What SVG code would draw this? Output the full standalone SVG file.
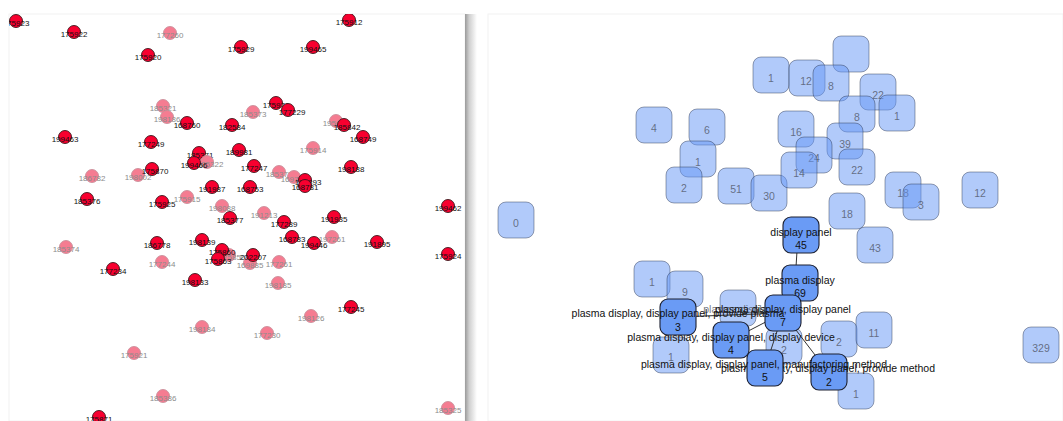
<svg xmlns="http://www.w3.org/2000/svg" width="1063" height="421" viewBox="0 0 1063 421">
<defs>
<clipPath id="lc"><rect x="9" y="14" width="456" height="407"/></clipPath>
<clipPath id="rc"><rect x="488" y="14" width="575" height="407"/></clipPath>
<linearGradient id="sh" x1="0" y1="0" x2="1" y2="0">
<stop offset="0" stop-color="#9a9a9a"/><stop offset="0.35" stop-color="#cfcfcf"/><stop offset="1" stop-color="#ffffff"/>
</linearGradient>
<style>
.r{fill:#f8002f;stroke:#3a1518;stroke-width:0.9}
.p{fill:#f57c91;stroke:#c98e9a;stroke-width:0.9}
text{font-family:"Liberation Sans",Arial,sans-serif;text-anchor:middle}
.tr{font-size:8px;fill:#111}
.tp{font-size:8px;fill:#8c8c8c}
.lb{fill:#6496f5;fill-opacity:0.5;stroke:#2a3550;stroke-opacity:0.45;stroke-width:1}
.db{fill:#6a9bf5;stroke:#1c2030;stroke-width:1.1}
.tl{font-size:10.5px;fill:#4a4f5a;fill-opacity:0.75}
.td{font-size:10.5px;fill:#111}
.e{stroke:#333;stroke-width:1;fill:none}
</style>
</defs>
<rect width="1063" height="421" fill="#fff"/>
<rect x="9" y="14" width="456" height="407" fill="#fff" stroke="#f2f2f2"/>
<rect x="465" y="14" width="12" height="407" fill="url(#sh)"/>
<rect x="488" y="14" width="575" height="407" fill="#fff" stroke="#f2f2f2"/>
<g id="left" clip-path="url(#lc)">
<g id="a1"><circle class="r" cx="16" cy="21" r="6.5"/><text class="tr" x="16" y="26">175923</text></g>
<g id="a2"><circle class="r" cx="74" cy="32" r="6.5"/><text class="tr" x="74" y="37">175922</text></g>
<g id="a3"><circle class="p" cx="170" cy="33" r="6.5"/><text class="tp" x="170" y="38">177260</text></g>
<g id="a4"><circle class="r" cx="349" cy="20" r="6.5"/><text class="tr" x="349" y="25">175912</text></g>
<g id="a5"><circle class="r" cx="148" cy="55" r="6.5"/><text class="tr" x="148" y="60">175920</text></g>
<g id="a6"><circle class="r" cx="241" cy="47" r="6.5"/><text class="tr" x="241" y="52">175929</text></g>
<g id="a7"><circle class="r" cx="313" cy="47" r="6.5"/><text class="tr" x="313" y="52">199465</text></g>
<g id="a8"><circle class="p" cx="163" cy="106" r="6.5"/><text class="tp" x="163" y="111">185321</text></g>
<g id="a9"><circle class="p" cx="167" cy="117" r="6.5"/><text class="tp" x="167" y="122">198186</text></g>
<g id="a10"><circle class="r" cx="187" cy="123" r="6.5"/><text class="tr" x="187" y="128">168760</text></g>
<g id="a11"><circle class="r" cx="232" cy="125" r="6.5"/><text class="tr" x="232" y="130">182584</text></g>
<g id="a12"><circle class="p" cx="253" cy="112" r="6.5"/><text class="tp" x="253" y="117">185373</text></g>
<g id="a13"><circle class="r" cx="276" cy="103" r="6.5"/><text class="tr" x="276" y="108">175971</text></g>
<g id="a14"><circle class="r" cx="288" cy="110" r="6.5"/><text class="tr" x="292" y="115">177229</text></g>
<g id="a15"><circle class="p" cx="336" cy="121" r="6.5"/><text class="tp" x="336" y="126">195641</text></g>
<g id="a16"><circle class="r" cx="344" cy="125" r="6.5"/><text class="tr" x="347" y="130">185842</text></g>
<g id="a17"><circle class="r" cx="363" cy="137" r="6.5"/><text class="tr" x="363" y="142">168749</text></g>
<g id="a18"><circle class="r" cx="65" cy="137" r="6.5"/><text class="tr" x="65" y="142">199463</text></g>
<g id="a19"><circle class="r" cx="151" cy="142" r="6.5"/><text class="tr" x="151" y="147">177249</text></g>
<g id="a20"><circle class="r" cx="239" cy="150" r="6.5"/><text class="tr" x="239" y="155">189981</text></g>
<g id="a21"><circle class="p" cx="313" cy="148" r="6.5"/><text class="tp" x="313" y="153">175914</text></g>
<g id="a22"><circle class="r" cx="199" cy="153" r="6.5"/><text class="tr" x="200" y="158">185371</text></g>
<g id="a23"><circle class="p" cx="207" cy="162" r="6.5"/><text class="tp" x="210" y="167">185322</text></g>
<g id="a24"><circle class="r" cx="194" cy="163" r="6.5"/><text class="tr" x="194" y="168">199466</text></g>
<g id="a25"><circle class="r" cx="254" cy="166" r="6.5"/><text class="tr" x="254" y="171">177247</text></g>
<g id="a26"><circle class="r" cx="351" cy="167" r="6.5"/><text class="tr" x="351" y="172">198188</text></g>
<g id="a27"><circle class="p" cx="92" cy="176" r="6.5"/><text class="tp" x="92" y="181">186782</text></g>
<g id="a28"><circle class="p" cx="138" cy="175" r="6.5"/><text class="tp" x="138" y="180">198002</text></g>
<g id="a29"><circle class="r" cx="152" cy="169" r="6.5"/><text class="tr" x="155" y="174">175870</text></g>
<g id="a30"><circle class="p" cx="279" cy="172" r="6.5"/><text class="tp" x="279" y="177">185375</text></g>
<g id="a31"><circle class="p" cx="294" cy="177" r="6.5"/><text class="tp" x="294" y="182">169731</text></g>
<g id="a32"><circle class="r" cx="305" cy="180" r="6.5"/><text class="tr" x="308" y="185">185893</text></g>
<g id="a33"><circle class="r" cx="305" cy="186" r="6.5"/><text class="tr" x="305" y="190">168781</text></g>
<g id="a34"><circle class="r" cx="212" cy="187" r="6.5"/><text class="tr" x="212" y="192">191987</text></g>
<g id="a35"><circle class="r" cx="250" cy="187" r="6.5"/><text class="tr" x="250" y="192">168753</text></g>
<g id="a36"><circle class="r" cx="87" cy="199" r="6.5"/><text class="tr" x="87" y="204">185376</text></g>
<g id="a37"><circle class="p" cx="187" cy="197" r="6.5"/><text class="tp" x="187" y="202">175915</text></g>
<g id="a38"><circle class="r" cx="162" cy="202" r="6.5"/><text class="tr" x="162" y="207">175925</text></g>
<g id="a39"><circle class="p" cx="222" cy="206" r="6.5"/><text class="tp" x="222" y="211">198088</text></g>
<g id="a40"><circle class="r" cx="230" cy="218" r="6.5"/><text class="tr" x="230" y="223">185377</text></g>
<g id="a41"><circle class="p" cx="264" cy="213" r="6.5"/><text class="tp" x="264" y="218">191213</text></g>
<g id="a42"><circle class="r" cx="284" cy="222" r="6.5"/><text class="tr" x="284" y="227">177289</text></g>
<g id="a43"><circle class="r" cx="334" cy="217" r="6.5"/><text class="tr" x="334" y="222">191935</text></g>
<g id="a44"><circle class="r" cx="448" cy="206" r="6.5"/><text class="tr" x="448" y="211">199462</text></g>
<g id="a45"><circle class="r" cx="157" cy="243" r="6.5"/><text class="tr" x="157" y="248">186778</text></g>
<g id="a46"><circle class="r" cx="202" cy="240" r="6.5"/><text class="tr" x="202" y="245">198139</text></g>
<g id="a47"><circle class="p" cx="229" cy="255" r="6.5"/><text class="tp" x="232" y="260">175850</text></g>
<g id="a48"><circle class="r" cx="222" cy="250" r="6.5"/><text class="tr" x="222" y="255">175860</text></g>
<g id="a49"><circle class="r" cx="218" cy="259" r="6.5"/><text class="tr" x="218" y="264">175863</text></g>
<g id="a50"><circle class="p" cx="332" cy="237" r="6.5"/><text class="tp" x="332" y="242">197261</text></g>
<g id="a51"><circle class="r" cx="292" cy="237" r="6.5"/><text class="tr" x="292" y="242">168783</text></g>
<g id="a52"><circle class="r" cx="314" cy="243" r="6.5"/><text class="tr" x="314" y="248">199446</text></g>
<g id="a53"><circle class="r" cx="377" cy="242" r="6.5"/><text class="tr" x="377" y="247">191895</text></g>
<g id="a54"><circle class="p" cx="66" cy="247" r="6.5"/><text class="tp" x="66" y="252">185374</text></g>
<g id="a55"><circle class="p" cx="250" cy="263" r="6.5"/><text class="tp" x="250" y="268">169885</text></g>
<g id="a56"><circle class="r" cx="253" cy="255" r="6.5"/><text class="tr" x="253" y="260">202207</text></g>
<g id="a57"><circle class="p" cx="279" cy="262" r="6.5"/><text class="tp" x="279" y="267">177261</text></g>
<g id="a58"><circle class="r" cx="448" cy="254" r="6.5"/><text class="tr" x="448" y="259">175924</text></g>
<g id="a59"><circle class="p" cx="162" cy="262" r="6.5"/><text class="tp" x="162" y="267">177244</text></g>
<g id="a60"><circle class="r" cx="113" cy="269" r="6.5"/><text class="tr" x="113" y="274">177234</text></g>
<g id="a61"><circle class="r" cx="195" cy="280" r="6.5"/><text class="tr" x="195" y="285">198133</text></g>
<g id="a62"><circle class="p" cx="278" cy="283" r="6.5"/><text class="tp" x="278" y="288">198185</text></g>
<g id="a63"><circle class="r" cx="351" cy="307" r="6.5"/><text class="tr" x="351" y="312">177245</text></g>
<g id="a64"><circle class="p" cx="311" cy="316" r="6.5"/><text class="tp" x="311" y="321">198126</text></g>
<g id="a65"><circle class="p" cx="202" cy="327" r="6.5"/><text class="tp" x="202" y="332">198184</text></g>
<g id="a66"><circle class="p" cx="267" cy="333" r="6.5"/><text class="tp" x="267" y="338">177230</text></g>
<g id="a67"><circle class="p" cx="134" cy="353" r="6.5"/><text class="tp" x="134" y="358">175921</text></g>
<g id="a68"><circle class="p" cx="163" cy="396" r="6.5"/><text class="tp" x="163" y="401">185386</text></g>
<g id="a69"><circle class="r" cx="99" cy="417" r="6.5"/><text class="tr" x="99" y="422">175871</text></g>
<g id="a70"><circle class="p" cx="448" cy="408" r="6.5"/><text class="tp" x="448" y="413">185325</text></g>
</g>
<g id="right" clip-path="url(#rc)">
<g id="b1"><rect class="lb" x="498" y="202" width="36" height="36" rx="8"/><text class="tl" x="516" y="227">0</text></g>
<g id="b2"><rect class="lb" x="636" y="107" width="36" height="36" rx="8"/><text class="tl" x="654" y="132">4</text></g>
<g id="b3"><rect class="lb" x="689" y="109" width="36" height="36" rx="8"/><text class="tl" x="707" y="134">6</text></g>
<g id="b4"><rect class="lb" x="680" y="141" width="36" height="36" rx="8"/><text class="tl" x="698" y="166">1</text></g>
<g id="b5"><rect class="lb" x="666" y="167" width="36" height="36" rx="8"/><text class="tl" x="684" y="192">2</text></g>
<g id="b6"><rect class="lb" x="718" y="168" width="36" height="36" rx="8"/><text class="tl" x="736" y="193">51</text></g>
<g id="b7"><rect class="lb" x="751" y="175" width="36" height="36" rx="8"/><text class="tl" x="769" y="200">30</text></g>
<g id="b8"><rect class="lb" x="753" y="57" width="36" height="36" rx="8"/><text class="tl" x="771" y="82">1</text></g>
<g id="b9"><rect class="lb" x="789" y="60" width="36" height="36" rx="8"/><text class="tl" x="806" y="85">12</text></g>
<g id="b10"><rect class="lb" x="833" y="36" width="36" height="36" rx="8"/></g>
<g id="b11"><rect class="lb" x="813" y="65" width="36" height="36" rx="8"/><text class="tl" x="831" y="90">8</text></g>
<g id="b12"><rect class="lb" x="860" y="74" width="36" height="36" rx="8"/><text class="tl" x="878" y="99">22</text></g>
<g id="b13"><rect class="lb" x="839" y="96" width="36" height="36" rx="8"/><text class="tl" x="857" y="121">8</text></g>
<g id="b14"><rect class="lb" x="879" y="95" width="36" height="36" rx="8"/><text class="tl" x="897" y="120">1</text></g>
<g id="b15"><rect class="lb" x="778" y="111" width="36" height="36" rx="8"/><text class="tl" x="796" y="136">16</text></g>
<g id="b16"><rect class="lb" x="827" y="123" width="36" height="36" rx="8"/><text class="tl" x="845" y="148">39</text></g>
<g id="b17"><rect class="lb" x="796" y="137" width="36" height="36" rx="8"/><text class="tl" x="814" y="162">24</text></g>
<g id="b18"><rect class="lb" x="839" y="149" width="36" height="36" rx="8"/><text class="tl" x="857" y="174">22</text></g>
<g id="b19"><rect class="lb" x="781" y="152" width="36" height="36" rx="8"/><text class="tl" x="799" y="177">14</text></g>
<g id="b20"><rect class="lb" x="885" y="172" width="36" height="36" rx="8"/><text class="tl" x="903" y="197">18</text></g>
<g id="b21"><rect class="lb" x="903" y="184" width="36" height="36" rx="8"/><text class="tl" x="921" y="209">3</text></g>
<g id="b22"><rect class="lb" x="962" y="172" width="36" height="36" rx="8"/><text class="tl" x="980" y="197">12</text></g>
<g id="b23"><rect class="lb" x="829" y="193" width="36" height="36" rx="8"/><text class="tl" x="847" y="218">18</text></g>
<g id="b24"><rect class="lb" x="857" y="227" width="36" height="36" rx="8"/><text class="tl" x="875" y="252">43</text></g>
<g id="b25"><rect class="lb" x="634" y="261" width="36" height="36" rx="8"/><text class="tl" x="652" y="286">1</text></g>
<g id="b26"><rect class="lb" x="667" y="271" width="36" height="36" rx="8"/><text class="tl" x="685" y="296">9</text></g>
<g id="b27"><rect class="lb" x="653" y="337" width="36" height="36" rx="8"/><text class="tl" x="671" y="361">1</text></g>
<g id="b28"><rect class="lb" x="720" y="290" width="36" height="36" rx="8"/><text class="tl" x="738" y="313">plasma display</text></g>
<g id="b29"><rect class="lb" x="766" y="328" width="36" height="36" rx="8"/><text class="tl" x="784" y="354">2</text></g>
<g id="b30"><rect class="lb" x="821" y="321" width="36" height="36" rx="8"/><text class="tl" x="839" y="346">2</text></g>
<g id="b31"><rect class="lb" x="856" y="312" width="36" height="36" rx="8"/><text class="tl" x="874" y="337">11</text></g>
<g id="b32"><rect class="lb" x="838" y="373" width="36" height="36" rx="8"/><text class="tl" x="856" y="398">1</text></g>
<g id="b33"><rect class="lb" x="1023" y="327" width="36" height="36" rx="8"/><text class="tl" x="1041" y="352">329</text></g>
<g id="edges">
<line class="e" x1="798" y1="235" x2="795" y2="283"/>
<line class="e" x1="795" y1="283" x2="783" y2="313"/>
<line class="e" x1="678" y1="317" x2="783" y2="313"/>
<line class="e" x1="731" y1="340" x2="783" y2="313"/>
<line class="e" x1="783" y1="313" x2="828" y2="372"/>
<line class="e" x1="783" y1="313" x2="765" y2="368"/>
</g>
<g id="n45"><rect class="db" x="783" y="217" width="36" height="36" rx="8"/><text class="td" x="801" y="236">display panel</text><text class="td" x="801" y="249">45</text></g>
<g id="n69"><rect class="db" x="782" y="265" width="36" height="36" rx="8"/><text class="td" x="800" y="284">plasma display</text><text class="td" x="800" y="297">69</text></g>
<g id="n7"><rect class="db" x="765" y="295" width="36" height="36" rx="8"/><text class="td" x="783" y="313">plasma display, display panel</text><text class="td" x="783" y="326">7</text></g>
<g id="n4"><rect class="db" x="713" y="322" width="36" height="36" rx="8"/><text class="td" x="731" y="341">plasma display, display panel, display device</text><text class="td" x="731" y="354">4</text></g>
<g id="n2"><rect class="db" x="811" y="354" width="36" height="36" rx="8"/><text class="td" x="828" y="372">plasma display, display panel, provide method</text><text class="td" x="829" y="386">2</text></g>
<g id="n5"><rect class="db" x="747" y="350" width="36" height="36" rx="8"/><text class="td" x="764" y="368">plasma display, display panel, manufactoring method</text><text class="td" x="765" y="381">5</text></g>
<g id="n3"><rect class="db" x="660" y="299" width="36" height="36" rx="8"/><text class="td" x="678" y="317">plasma display, display panel, provide plasma</text><text class="td" x="678" y="331">3</text></g>
</g>
</svg>
